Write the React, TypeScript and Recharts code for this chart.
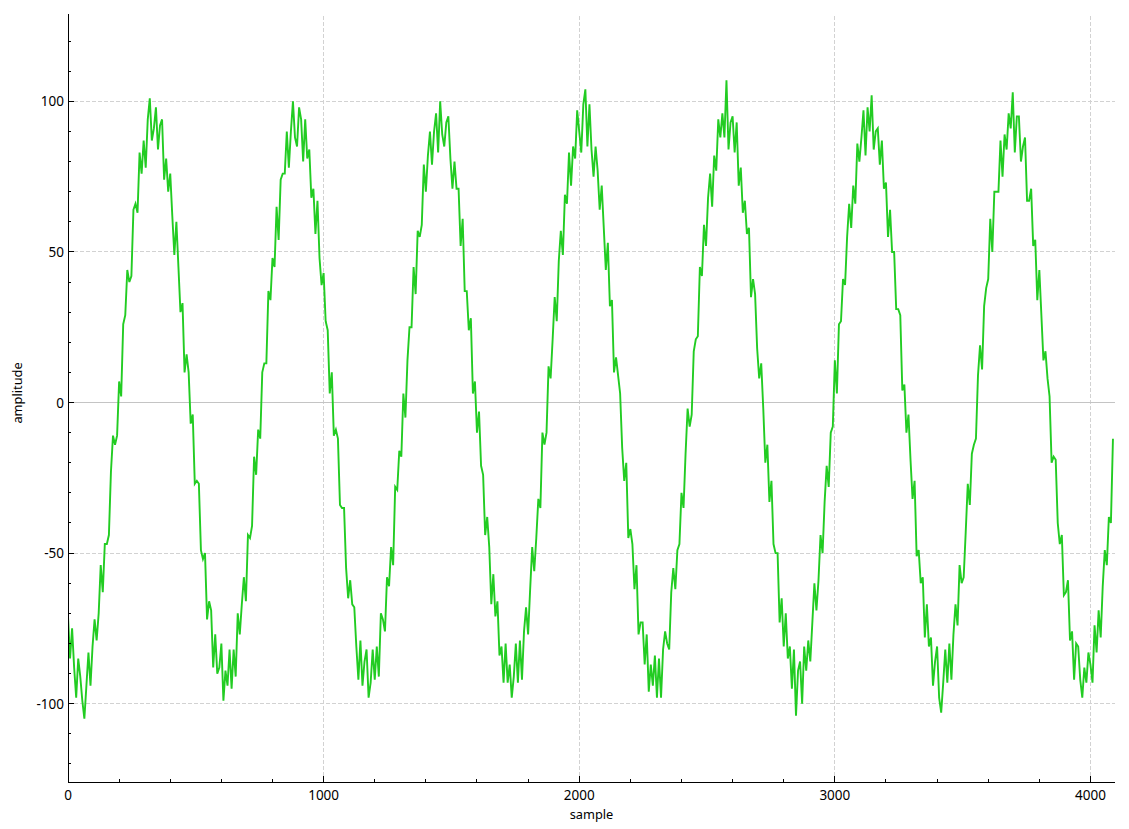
import React from 'react';
import { LineChart, Line, XAxis, YAxis, ReferenceLine } from 'recharts';

// sample spacing of the values read below (every 8th sample)
const SAMPLE_STEP = 8;

const amplitude: number[] = [
  -71, -85, -75, -88, -98, -85, -91, -99, -105, -94,
  -83, -94, -81, -72, -79, -70, -54, -63, -47, -47,
  -44, -23, -11, -14, -11, 7, 2, 26, 29, 44,
  40, 42, 64, 66, 63, 83, 76, 87, 78, 94,
  101, 87, 91, 98, 84, 92, 94, 74, 81, 70,
  76, 62, 49, 60, 45, 30, 33, 10, 16, 10,
  -7, -4, -27, -26, -27, -49, -52, -50, -72, -66,
  -69, -88, -77, -90, -88, -80, -99, -89, -94, -82,
  -95, -82, -91, -70, -77, -67, -58, -66, -44, -45,
  -41, -18, -24, -9, -12, 10, 13, 13, 37, 34,
  48, 45, 65, 54, 74, 76, 76, 90, 78, 90,
  100, 88, 85, 98, 94, 80, 94, 81, 84, 68,
  71, 56, 67, 48, 39, 43, 27, 24, 3, 10,
  -11, -9, -12, -34, -35, -35, -55, -65, -59, -67,
  -68, -81, -92, -79, -94, -86, -82, -98, -93, -82,
  -92, -81, -91, -70, -72, -76, -58, -61, -48, -54,
  -28, -29, -16, -18, 3, -5, 14, 25, 25, 45,
  36, 57, 55, 59, 79, 70, 82, 90, 79, 90,
  96, 83, 100, 89, 85, 93, 95, 81, 71, 80,
  71, 71, 52, 61, 37, 37, 24, 28, 3, 7,
  -10, -3, -21, -24, -44, -38, -48, -67, -57, -71,
  -66, -84, -81, -93, -80, -93, -87, -98, -91, -80,
  -93, -79, -92, -76, -68, -77, -62, -48, -56, -45,
  -32, -35, -10, -14, -10, 12, 8, 21, 35, 27,
  47, 57, 49, 69, 66, 83, 72, 85, 81, 97,
  90, 83, 99, 104, 85, 99, 84, 75, 85, 77,
  64, 72, 58, 44, 53, 32, 34, 10, 15, 9,
  3, -15, -26, -20, -45, -42, -47, -62, -54, -77,
  -73, -73, -87, -77, -96, -87, -94, -84, -98, -85,
  -98, -82, -76, -80, -82, -63, -55, -62, -49, -47,
  -30, -35, -17, -2, -8, -4, 17, 21, 22, 45,
  42, 59, 52, 68, 76, 65, 82, 77, 94, 88,
  96, 88, 107, 84, 93, 95, 83, 93, 72, 78,
  63, 67, 56, 58, 35, 41, 36, 18, 8, 13,
  -2, -20, -14, -33, -26, -47, -50, -50, -73, -65,
  -81, -70, -85, -81, -95, -82, -104, -89, -86, -100,
  -81, -89, -79, -86, -73, -60, -69, -59, -44, -50,
  -33, -21, -28, -10, -8, 14, 3, 26, 27, 41,
  39, 55, 66, 58, 72, 66, 86, 80, 88, 97,
  82, 98, 90, 102, 84, 90, 91, 79, 87, 71,
  73, 55, 64, 50, 50, 31, 31, 29, 4, 6,
  -10, -4, -19, -32, -26, -51, -49, -60, -58, -78,
  -67, -81, -78, -94, -86, -81, -98, -103, -93, -82,
  -93, -80, -92, -77, -67, -74, -54, -60, -58, -43,
  -27, -34, -17, -14, -12, 9, 19, 11, 32, 38,
  41, 61, 50, 70, 70, 70, 87, 75, 89, 84,
  96, 91, 103, 83, 95, 95, 80, 85, 88, 67,
  67, 71, 52, 54, 34, 44, 29, 14, 17, 8,
  2, -20, -18, -19, -40, -47, -44, -64, -63, -59,
  -79, -76, -92, -80, -81, -92, -98, -88, -93, -83,
  -87, -93, -74, -83, -69, -78, -61, -49, -54, -38,
  -40, -12,
];

const xMajorTicks = [0, 1000, 2000, 3000, 4000];
const xMinorTicks = [200, 400, 600, 800, 1200, 1400, 1600, 1800, 2200, 2400, 2600, 2800, 3200, 3400, 3600, 3800];
const yMajorTicks = [-100, -50, 0, 50, 100];
const yMinorTicks = [-120, -110, -90, -80, -70, -60, -40, -30, -20, -10, 10, 20, 30, 40, 60, 70, 80, 90, 110, 120];
const xGridValues = [1000, 2000, 3000, 4000];
const yGridValues = [-100, -50, 50, 100];
const xDomain: [number, number] = [0, 4096];
const yDomain: [number, number] = [-126, 129];

const xTicks = [...xMajorTicks, ...xMinorTicks].sort((a, b) => a - b);
const yTicks = [...yMajorTicks, ...yMinorTicks].sort((a, b) => a - b);

const data = amplitude.map((v, i) => ({ sample: i * SAMPLE_STEP, amplitude: v }));

const FONT = '"Noto Sans", "Open Sans", sans-serif';
const LINE_COLOR = '#22cc22';
const GRID_COLOR = '#d2d2d2';

const X_TICK_SIZE = 4;
const Y_TICK_SIZE = 3;
const TICK_MARGIN = 2;

function XTick(props: any) {
  const { x, y, payload } = props;
  const v = payload.value;
  const major = xMajorTicks.includes(v);
  const axisY = y - X_TICK_SIZE - TICK_MARGIN;
  return (
    <g>
      <line x1={x} x2={x} y1={axisY} y2={axisY - (major ? 6 : 3)} stroke="#000" strokeWidth={1} shapeRendering="crispEdges" />
      {major && (
        <text x={x} y={axisY + 12.5} textAnchor="middle" dominantBaseline="central" fontFamily={FONT} fontSize={13.5} fill="#000">
          {v}
        </text>
      )}
    </g>
  );
}

function YTick(props: any) {
  const { x, y, payload } = props;
  const v = payload.value;
  const major = yMajorTicks.includes(v);
  const axisX = x + Y_TICK_SIZE + TICK_MARGIN;
  return (
    <g>
      <line x1={axisX} x2={axisX + (major ? 6 : 3)} y1={y} y2={y} stroke="#000" strokeWidth={1} shapeRendering="crispEdges" />
      {major && (
        <text x={x + 1} y={y} textAnchor="end" dominantBaseline="central" fontFamily={FONT} fontSize={13.5} fill="#000">
          {v}
        </text>
      )}
    </g>
  );
}

function XTitle(props: any) {
  const vb = props.viewBox || { x: 60, y: 774, width: 1047, height: 47 };
  return (
    <text x={vb.x + vb.width / 2} y={vb.y + 32} textAnchor="middle" dominantBaseline="central" fontFamily={FONT} fontSize={12.8} fill="#000">
      sample
    </text>
  );
}

function YTitle(props: any) {
  const vb = props.viewBox || { x: 0, y: 6, width: 60, height: 768 };
  const cx = vb.x + 9;
  const cy = vb.y + vb.height / 2 - 5;
  return (
    <text x={cx} y={cy} transform={`rotate(-90, ${cx}, ${cy})`} textAnchor="middle" dominantBaseline="central" fontFamily={FONT} fontSize={12.8} fill="#000">
      amplitude
    </text>
  );
}

export default function App() {
  return (
    <div style={{ width: 1113, height: 821, fontFamily: FONT }}>
      <LineChart width={1113} height={821} data={data} margin={{ top: 6, right: 6, left: 0, bottom: 0 }}>
        {xGridValues.map((v) => (
          <ReferenceLine key={`gx${v}`} x={v} stroke={GRID_COLOR} strokeDasharray="4 2" shapeRendering="crispEdges" ifOverflow="hidden" />
        ))}
        {yGridValues.map((v) => (
          <ReferenceLine key={`gy${v}`} y={v} stroke={GRID_COLOR} strokeDasharray="4 2" shapeRendering="crispEdges" ifOverflow="hidden" />
        ))}
        <ReferenceLine y={0} stroke="#c4c4c4" shapeRendering="crispEdges" />
        <XAxis
          dataKey="sample"
          type="number"
          domain={xDomain}
          allowDataOverflow
          ticks={xTicks}
          interval={0}
          height={47}
          tickSize={X_TICK_SIZE}
          tickMargin={TICK_MARGIN}
          tickLine={false}
          axisLine={{ stroke: '#000', shapeRendering: 'crispEdges' }}
          tick={<XTick />}
          label={(p: any) => <XTitle {...p} />}
        />
        <YAxis
          type="number"
          domain={yDomain}
          allowDataOverflow
          ticks={yTicks}
          interval={0}
          width={60}
          tickSize={Y_TICK_SIZE}
          tickMargin={TICK_MARGIN}
          tickLine={false}
          axisLine={{ stroke: '#000', shapeRendering: 'crispEdges' }}
          tick={<YTick />}
          label={(p: any) => <YTitle {...p} />}
        />
        <Line
          type="linear"
          dataKey="amplitude"
          stroke={LINE_COLOR}
          strokeWidth={1.9}
          dot={false}
          activeDot={false}
          isAnimationActive={false}
        />
      </LineChart>
    </div>
  );
}
